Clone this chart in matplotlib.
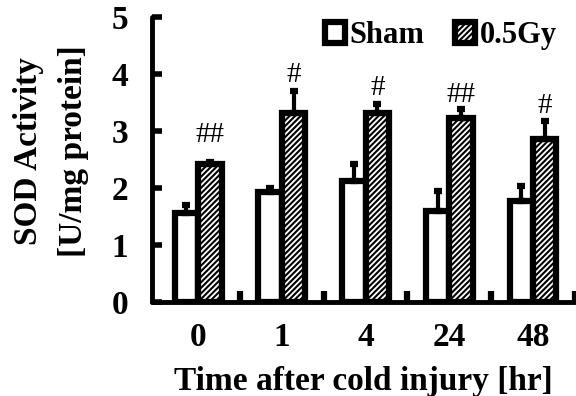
import matplotlib
matplotlib.use("Agg")
import matplotlib.pyplot as plt
import numpy as np
from matplotlib.patches import Patch

categories = ["0", "1", "4", "24", "48"]
sham = [1.57, 1.94, 2.12, 1.60, 1.78]
sham_err = [0.13, 0.06, 0.30, 0.35, 0.25]
gy = [2.43, 3.31, 3.31, 3.23, 2.86]
gy_err = [0.03, 0.40, 0.17, 0.16, 0.31]
marks = ["##", "#", "#", "##", "#"]
mark_y = [2.70, 3.76, 3.53, 3.41, 3.21]

plt.rcParams['font.family'] = ['Liberation Serif', 'DejaVu Serif']
plt.rcParams['hatch.linewidth'] = 1.5

fig = plt.figure(figsize=(5.76, 3.96), dpi=100)
ax = fig.add_axes([0.264, 0.237, 0.734, 0.72])

x = np.arange(len(categories))
w = 0.28
lw = 4.5
hatch = '//////'
ax.bar(x + 0.36, sham, w, color='white', edgecolor='black', linewidth=lw, zorder=2)
ax.bar(x + 0.64, gy, w, color='white', edgecolor='black', linewidth=lw, hatch=hatch, zorder=2)
ax.errorbar(x + 0.36, sham, yerr=[np.zeros(5), sham_err], fmt='none', ecolor='black',
            elinewidth=3, capsize=3.2, capthick=4.5, zorder=3)
ax.errorbar(x + 0.64, gy, yerr=[np.zeros(5), gy_err], fmt='none', ecolor='black',
            elinewidth=3, capsize=3.2, capthick=4.5, zorder=3)
for xi, yv, m in zip(x, mark_y, marks):
    ax.text(xi + 0.64, yv, m, ha='center', va='bottom', fontsize=21)

ax.set_xlim(-0.05, 5.0)
ax.set_ylim(0, 5)
ax.set_yticks([0, 1, 2, 3, 4, 5])
ax.set_xticks(x + 0.5)
ax.set_xticklabels(categories)
ax.tick_params(axis='x', length=0, pad=14, labelsize=24)
ax.set_xticks(np.arange(1, 6), minor=True)
ax.tick_params(axis='x', which='minor', direction='in', length=8, width=4.5)
ax.tick_params(axis='y', direction='in', length=7, width=4, pad=17, labelsize=24)
for lab in ax.get_xticklabels() + ax.get_yticklabels():
    lab.set_fontweight('bold')

for s in ['top', 'right']:
    ax.spines[s].set_visible(False)
for s in ['left', 'bottom']:
    ax.spines[s].set_linewidth(3.5)
    ax.spines[s].set_capstyle('round')

ax.set_xlabel("Time after cold injury [hr]", fontsize=24, fontweight='bold', labelpad=10)
ax.set_ylabel("SOD Activity\n[U/mg protein]", fontsize=24, fontweight='bold',
              linespacing=1.55)
ax.yaxis.set_label_coords(-0.15, 0.53)

handles = [Patch(facecolor='white', edgecolor='black', linewidth=4.5),
           Patch(facecolor='white', edgecolor='black', linewidth=4.5, hatch=hatch)]
ax.legend(handles, ["Sham", "0.5Gy"], loc='upper right', bbox_to_anchor=(1.0, 1.05),
          ncol=2, frameon=False, prop={'weight': 'bold', 'size': 22},
          handlelength=0.65, handleheight=0.65, handletextpad=0.15, columnspacing=1.0,
          borderaxespad=0.2)

fig.savefig("out.png", dpi=100)
